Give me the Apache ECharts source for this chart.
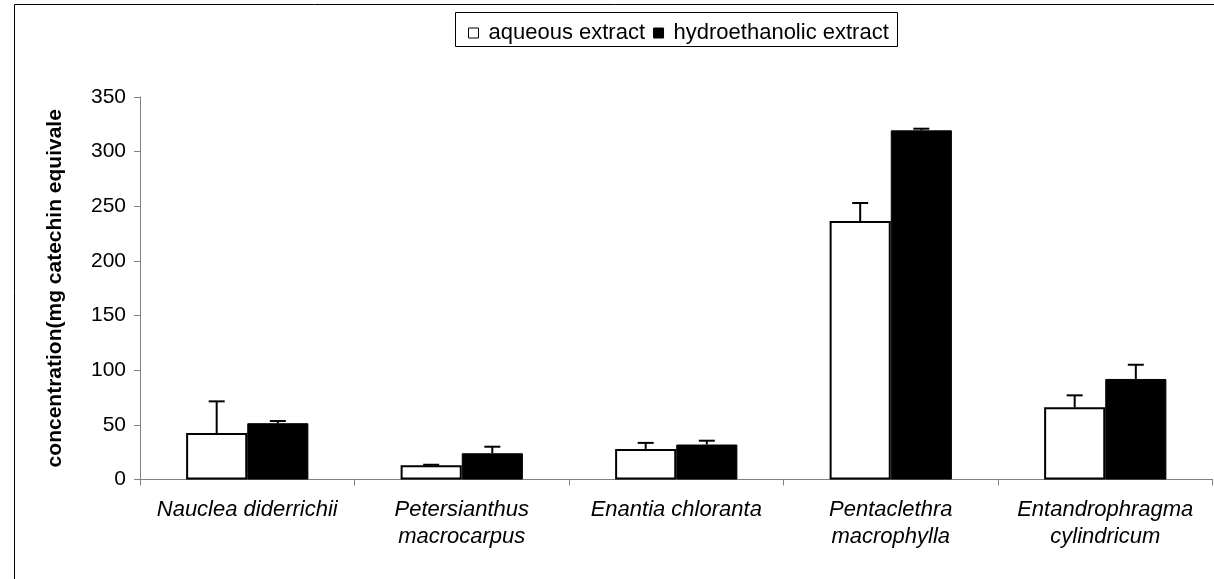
<!DOCTYPE html>
<html>
<head>
<meta charset="utf-8">
<script src="https://cdn.jsdelivr.net/npm/echarts@6/dist/echarts.min.js"></script>
<style>
html,body{margin:0;padding:0;background:#fff;}
#chart{width:1214px;height:579px;}
</style>
</head>
<body>
<div id="chart"></div>
<script>
const categories = ['Nauclea diderrichii', 'Petersianthus\nmacrocarpus', 'Enantia chloranta', 'Pentaclethra\nmacrophylla', 'Entandrophragma\ncylindricum'];
const aqueous = [42.5, 13, 28, 236.5, 66];
const aqueousErr = [29, 0.5, 5.5, 16.5, 11];
const hydro = [51.5, 24, 32, 319.5, 92];
const hydroErr = [2, 6, 3.5, 1.5, 13];
const yTicks = [0, 50, 100, 150, 200, 250, 300, 350];
const seriesNames = ['aqueous extract', 'hydroethanolic extract'];

const chart = echarts.init(document.getElementById('chart'));
const FONT = '"Liberation Sans", Arial, sans-serif';
const CATGAP = 0.43;

function errorSeries(vals, errs, sign) {
  return {
    type: 'custom',
    silent: true,
    z: 5,
    data: vals.map((v, i) => [i, v, v + errs[i]]),
    renderItem: function (params, api) {
      const band = api.size([1, 0])[0];
      const off = sign * band * (1 - CATGAP) / 4;
      const base = api.coord([api.value(0), api.value(1)]);
      const top = api.coord([api.value(0), api.value(2)]);
      const x = base[0] + off;
      const cap = 8;
      const st = { stroke: '#000', lineWidth: 2 };
      return {
        type: 'group',
        children: [
          { type: 'line', shape: { x1: x, y1: base[1], x2: x, y2: top[1] }, style: st },
          { type: 'line', shape: { x1: x - cap, y1: top[1], x2: x + cap, y2: top[1] }, style: st }
        ]
      };
    }
  };
}

chart.setOption({
  backgroundColor: '#fff',
  animation: false,
  graphic: [
    { type: 'rect', shape: { x: 14.5, y: 4.5, width: 1220, height: 600 }, style: { fill: 'none', stroke: '#000', lineWidth: 1 }, z: -10 },
    { type: 'rect', shape: { x: 455.5, y: 12.5, width: 442, height: 34 }, style: { fill: '#fff', stroke: '#000', lineWidth: 1 }, z: 0 }
  ],
  legend: {
    data: seriesNames,
    left: 463,
    top: 17,
    itemWidth: 10,
    itemHeight: 10,
    itemGap: 8,
    icon: 'rect',
    textStyle: { fontFamily: FONT, fontSize: 22, color: '#000', padding: [0, 0, 0, 5] },
    itemStyle: { borderColor: '#000', borderWidth: 1 }
  },
  grid: { left: 140, right: 1.5, top: 97, bottom: 99.5, containLabel: false },
  xAxis: {
    type: 'category',
    data: categories,
    axisLine: { lineStyle: { color: '#808080', width: 1 } },
    axisTick: { show: true, length: 6, lineStyle: { color: '#808080' } },
    axisLabel: { fontFamily: FONT, fontSize: 22, fontStyle: 'italic', color: '#000', margin: 17, lineHeight: 27, interval: 0 }
  },
  yAxis: {
    type: 'value',
    min: 0, max: 350, interval: 50,
    name: 'concentration(mg catechin equivalent/g)',
    nameLocation: 'middle',
    nameGap: 74,
    nameTruncate: { maxWidth: 366, ellipsis: '' },
    nameTextStyle: { fontFamily: FONT, fontSize: 21, fontWeight: 'bold', color: '#000' },
    axisLine: { show: true, lineStyle: { color: '#808080', width: 1 } },
    axisTick: { show: true, length: 6, lineStyle: { color: '#808080' } },
    splitLine: { show: false },
    axisLabel: { fontFamily: FONT, fontSize: 21, color: '#000', margin: 14, formatter: v => yTicks.includes(v) ? String(v) : '' }
  },
  series: [
    {
      name: seriesNames[0], type: 'bar', data: aqueous,
      barGap: '0%', barCategoryGap: (CATGAP * 100) + '%',
      itemStyle: { color: '#fff', borderColor: '#000', borderWidth: 2 }
    },
    {
      name: seriesNames[1], type: 'bar', data: hydro,
      barGap: '0%', barCategoryGap: (CATGAP * 100) + '%',
      itemStyle: { color: '#000', borderColor: '#000', borderWidth: 1 }
    },
    errorSeries(aqueous, aqueousErr, -1),
    errorSeries(hydro, hydroErr, 1)
  ]
});
</script>
</body>
</html>
